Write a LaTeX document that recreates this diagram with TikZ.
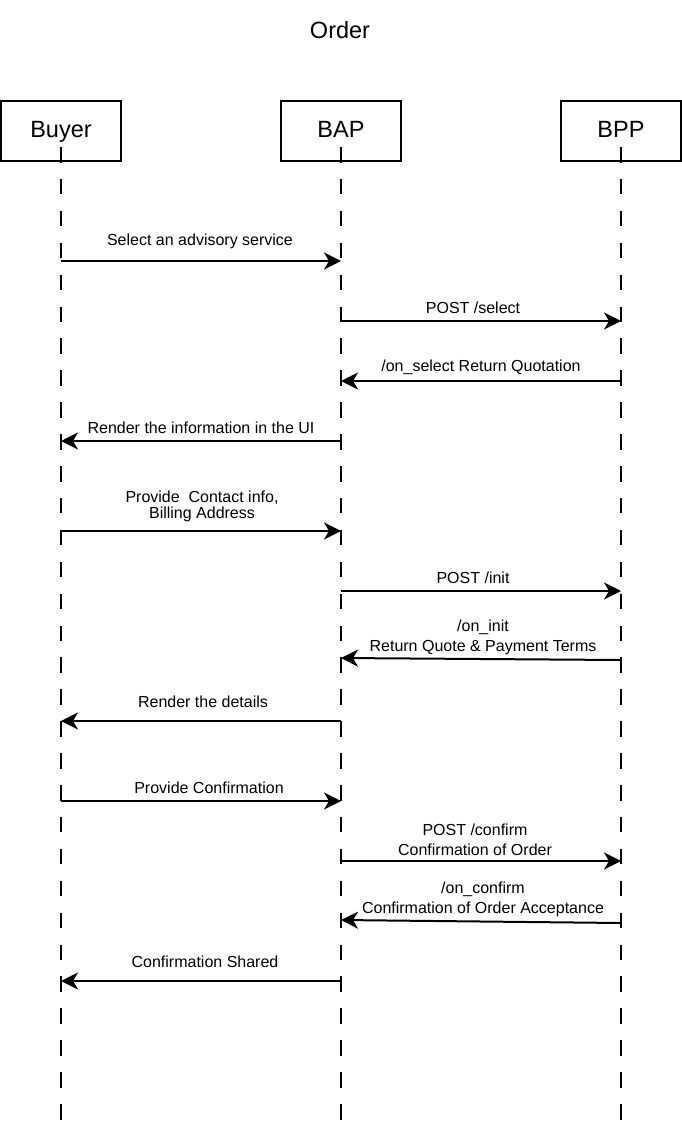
\documentclass[tikz,border=0pt]{standalone}
\usepackage{fontspec}
\setmainfont{Liberation Sans}
\usetikzlibrary{arrows.meta}
\begin{document}
\begin{tikzpicture}[x=1pt,y=-1pt,
  actor/.style={draw=black, line width=2pt, fill=white, minimum width=120pt, minimum height=60pt, inner sep=0pt, text height=17pt, text depth=5pt, font=\fontsize{23.5}{28}\selectfont},
  lifeline/.style={line width=2pt, dash pattern=on 15.5pt off 16.4pt},
  msg/.style={line width=2pt, -{Stealth[length=17pt,width=17pt,inset=5pt]}},
  lbl/.style={font=\fontsize{16}{20}\selectfont, align=center, inner sep=0pt, yshift=-1.5pt},
  lbltight/.style={font=\fontsize{16}{16.5}\selectfont, align=center, inner sep=0pt, yshift=-1.5pt},
]
\useasboundingbox (0,0) rectangle (682,1124);
\coordinate (bottom) at (0,1124);

\node[font=\fontsize{23.5}{28}\selectfont] (title) at (340,30) {Order};

\node[actor] (buyer) at (61,131) {Buyer};
\node[actor] (bap) at (341,131) {BAP};
\node[actor] (bpp) at (621,131) {BPP};

\draw[lifeline] ([yshift=-16pt]buyer.center) -- (buyer.center |- bottom);
\draw[lifeline] ([yshift=-16pt]bap.center) -- (bap.center |- bottom);
\draw[lifeline] ([yshift=-16pt]bpp.center) -- (bpp.center |- bottom);

% 1
\draw[msg] (buyer.center |- 0,261) -- (bap.center |- 0,261);
\node[lbl] (l1) at (200,240) {Select an advisory service};
% 2
\draw[msg] (bap.center |- 0,321) -- (bpp.center |- 0,321);
\node[lbl] (l2) at (473,306) {POST /select};
% 3
\draw[msg] (bpp.center |- 0,381) -- (bap.center |- 0,381);
\node[lbl] (l3) at (481,366) {/on\_select Return Quotation};
% 4
\draw[msg] (bap.center |- 0,441) -- (buyer.center |- 0,441);
\node[lbl] (l4) at (201,426) {Render the information in the UI};
% 5
\draw[msg] (buyer.center |- 0,531) -- (bap.center |- 0,531);
\node[lbltight] (l5) at (202,505) {Provide\ \ Contact info,\\Billing Address};
% 6
\draw[msg] (bap.center |- 0,591) -- (bpp.center |- 0,591);
\node[lbl] (l6) at (473,576) {POST /init};
% 7
\draw[msg] (bpp.center |- 0,660) -- (bap.center |- 0,658);
\node[lbl] (l7) at (483,636) {/on\_init\\Return Quote \& Payment Terms};
% 8
\draw[msg] (bap.center |- 0,721) -- (buyer.center |- 0,721);
\node[lbl] (l8) at (203,700) {Render the details};
% 9
\draw[msg] (buyer.center |- 0,801) -- (bap.center |- 0,801);
\node[lbl] (l9) at (209,786) {Provide Confirmation};
% 10
\draw[msg] (bap.center |- 0,861) -- (bpp.center |- 0,861);
\node[lbl] (l10) at (475,838) {POST /confirm\\Confirmation of Order};
% 11
\draw[msg] (bpp.center |- 0,923) -- (bap.center |- 0,920);
\node[lbl] (l11) at (483,898) {/on\_confirm\\Confirmation of Order Acceptance};
% 12
\draw[msg] (bap.center |- 0,981) -- (buyer.center |- 0,981);
\node[lbl] (l12) at (205,960) {Confirmation Shared};
\end{tikzpicture}
\end{document}
